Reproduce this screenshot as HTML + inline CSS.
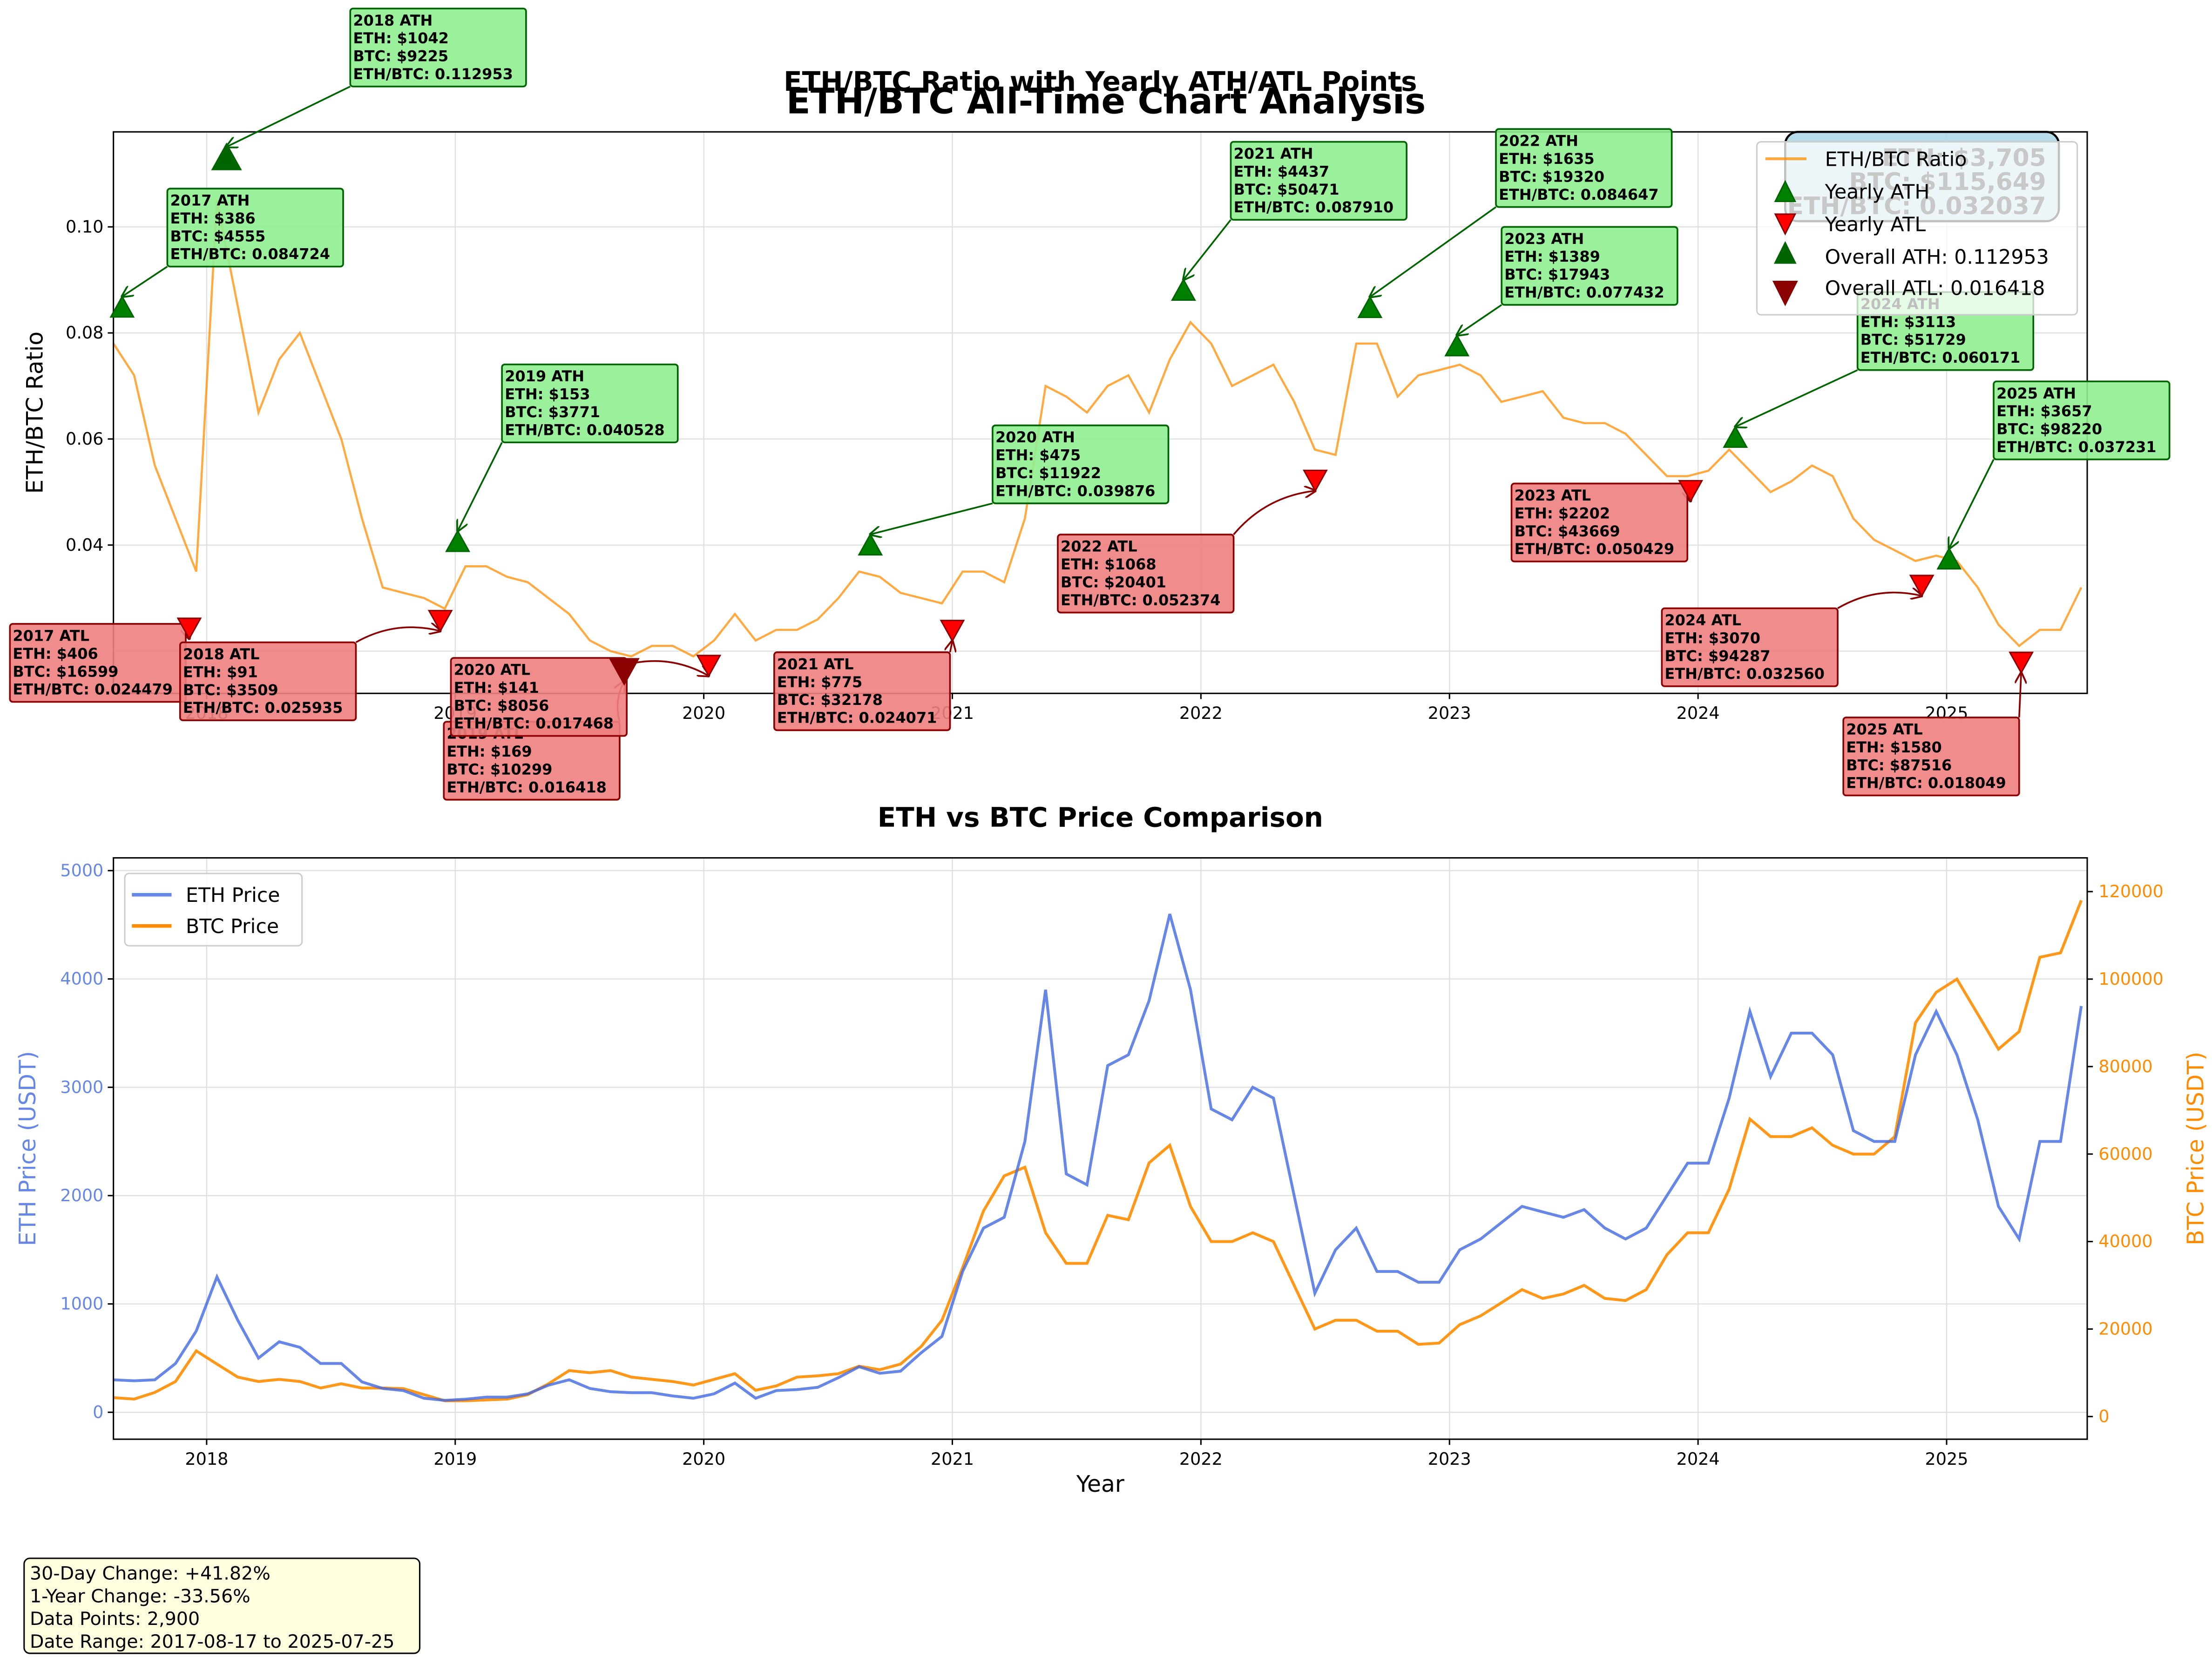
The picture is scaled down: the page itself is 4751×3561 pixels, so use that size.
<!DOCTYPE html>
<html><head><meta charset="utf-8">
<style>
html,body{margin:0;padding:0;background:#fff;}
svg{display:block;font-family:"DejaVu Sans","Liberation Sans",sans-serif;}
</style></head>
<body>
<svg id="c" width="4751" height="3561" viewBox="0 0 1560 1169.3" preserveAspectRatio="none" xmlns="http://www.w3.org/2000/svg"></svg>
<script>
// ---- data (monthly from 2017-08) ----
const startYear = 2017.625;
const ethPrice = [300,290,300,450,750,
 1250,850,500,650,600,450,450,280,220,200,130,110,
 120,140,140,170,250,300,220,190,180,180,150,130,
 170,270,130,200,210,230,320,420,360,380,550,700,
 1300,1700,1800,2500,3900,2200,2100,3200,3300,3800,4600,3900,
 2800,2700,3000,2900,2000,1100,1500,1700,1300,1300,1200,1200,
 1500,1600,1750,1900,1850,1800,1870,1700,1600,1700,2000,2300,
 2300,2900,3700,3100,3500,3500,3300,2600,2500,2500,3300,3700,
 3300,2700,1900,1600,2500,2500,3750];
const btcPrice = [4300,4000,5500,8000,15000,
 12000,9000,8000,8500,8000,6500,7500,6500,6500,6400,5000,3600,
 3600,3800,4000,5000,7500,10500,10000,10500,9000,8500,8000,7200,
 8500,9800,6000,7000,9000,9300,9800,11500,10700,12000,16000,22000,
 34000,47000,55000,57000,42000,35000,35000,46000,45000,58000,62000,48000,
 40000,40000,42000,40000,30000,20000,22000,22000,19500,19500,16500,16800,
 21000,23000,26000,29000,27000,28000,30000,27000,26500,29000,37000,42000,
 42000,52000,68000,64000,64000,66000,62000,60000,60000,64000,90000,97000,
 100000,92000,84000,88000,105000,106000,118000];
const ratio = [0.078,0.072,0.055,0.045,0.035,
 0.105,0.085,0.065,0.075,0.08,0.07,0.06,0.045,0.032,0.031,0.030,0.028,
 0.036,0.036,0.034,0.033,0.030,0.027,0.022,0.020,0.019,0.021,0.021,0.019,
 0.022,0.027,0.022,0.024,0.024,0.026,0.030,0.035,0.034,0.031,0.030,0.029,
 0.035,0.035,0.033,0.045,0.070,0.068,0.065,0.070,0.072,0.065,0.075,0.082,
 0.078,0.070,0.072,0.074,0.067,0.058,0.057,0.078,0.078,0.068,0.072,0.073,
 0.074,0.072,0.067,0.068,0.069,0.064,0.063,0.063,0.061,0.057,0.053,0.053,
 0.054,0.058,0.054,0.050,0.052,0.055,0.053,0.045,0.041,0.039,0.037,0.038,
 0.037,0.032,0.025,0.021,0.024,0.024,0.032];
const athYears = ["2017","2018","2019","2020","2021","2022","2023","2024","2025"];
const athDates = [2017.66,2018.08,2019.01,2020.67,2021.93,2022.68,2023.03,2024.15,2025.01];
const athRatio = [0.084724,0.112953,0.040528,0.039876,0.087910,0.084647,0.077432,0.060171,0.037231];
const athEth = [386,1042,153,475,4437,1635,1389,3113,3657];
const athBtc = [4555,9225,3771,11922,50471,19320,17943,51729,98220];
const atlYears = ["2017","2018","2019","2020","2021","2022","2023","2024","2025"];
const atlDates = [2017.93,2018.94,2019.68,2020.02,2021.0,2022.46,2023.97,2024.9,2025.30];
const atlRatio = [0.024479,0.025935,0.016418,0.017468,0.024071,0.052374,0.050429,0.032560,0.018049];
const atlEth = [406,91,169,141,775,1068,2202,3070,1580];
const atlBtc = [16599,3509,10299,8056,32178,20401,43669,94287,87516];
const yearTicks = [2018,2019,2020,2021,2022,2023,2024,2025];
const ratioTicks = [0.04,0.06,0.08,0.10];
const ethTicks = [0,1000,2000,3000,4000,5000];
const btcTicks = [0,20000,40000,60000,80000,100000,120000];

// ---- layout ----
const L=80,R=1472, T1=93,B1=489, T2=605,B2=1015;
const NS="http://www.w3.org/2000/svg";
const svg=document.getElementById('c');
function el(tag,attrs,parent){const e=document.createElementNS(NS,tag);for(const k in attrs)e.setAttribute(k,attrs[k]);(parent||svg).appendChild(e);return e;}
function tx(x,y,s,attrs,parent){const e=el('text',Object.assign({x:x,y:y},attrs),parent);e.textContent=s;return e;}
const xS=t=>L+(t-startYear)*175.3;
const yR=v=>160-(v-0.10)*3740;
const yE=v=>996-v*0.0764;
const yB=v=>999-v*0.003085;
const tOf=i=>startYear+i/12;

el('defs',{}).innerHTML='<clipPath id="cp1"><rect x="80" y="93" width="1392" height="396"/></clipPath><clipPath id="cp2"><rect x="80" y="605" width="1392" height="410"/></clipPath>'+
'<marker id="ag" viewBox="0 0 10 10" refX="9" refY="5" markerWidth="7" markerHeight="7" orient="auto"><path d="M0,0L10,5L0,10" fill="none" stroke="darkgreen" stroke-width="1.5"/></marker>'+
'<marker id="ar" viewBox="0 0 10 10" refX="9" refY="5" markerWidth="7" markerHeight="7" orient="auto"><path d="M0,0L10,5L0,10" fill="none" stroke="darkred" stroke-width="1.5"/></marker>';

// ===== TOP CHART =====
const g1=el('g',{});


yearTicks.forEach(y=>{const l=el('line',{x1:xS(y),x2:xS(y),y1:T1,y2:B1,stroke:'#e0e0e0','stroke-width':0.8},g1);
 });
ratioTicks.concat([0.02]).forEach(v=>{const l=el('line',{x1:L,x2:R,y1:yR(v),y2:yR(v),stroke:'#e0e0e0','stroke-width':0.8},g1);
 });
let d='';ratio.forEach((v,i)=>{d+=(i?'L':'M')+xS(tOf(i)).toFixed(1)+','+yR(v).toFixed(1);});
const rl=el('path',{d:d,fill:'none',stroke:'#ff8c00','stroke-opacity':0.75,'stroke-width':1.5,'clip-path':'url(#cp1)'},g1);

el('rect',{x:L,y:T1,width:R-L,height:B1-T1,fill:'none',stroke:'#000','stroke-width':1},g1);
ratioTicks.forEach(v=>{el('line',{x1:L-4,x2:L,y1:yR(v),y2:yR(v),stroke:'#000'},g1);
 const t=tx(L-7,yR(v)+4,v.toFixed(2),{'font-size':12,'text-anchor':'end'},g1);});
yearTicks.forEach(y=>{el('line',{x1:xS(y),x2:xS(y),y1:B1,y2:B1+4,stroke:'#000'},g1);
 const t=tx(xS(y),B1+18,String(y),{'font-size':12,'text-anchor':'middle'},g1);});
const yl=tx(0,0,'ETH/BTC Ratio',{'font-size':16,'text-anchor':'middle',transform:'translate(30,291) rotate(-90)'},g1);

const t1=tx(776,64,'ETH/BTC Ratio with Yearly ATH/ATL Points',{'font-size':19,'font-weight':'bold','text-anchor':'middle'});

const t0=tx(780,80,'ETH/BTC All-Time Chart Analysis',{'font-size':25,'font-weight':'bold','text-anchor':'middle'});


// current value box
const cb=el('g',{});

el('rect',{x:1259,y:93,width:193,height:63,rx:9,fill:'#add8e6','fill-opacity':0.9,stroke:'#000','stroke-width':1.5},cb);

// annotations
const athBox=[[118,133],[247,6],[354,257],[700,300],[868,100],[1055,91],[1059,160],[1310,206],[1406,269]];
const atlBox=[[7,440],[127,453],[313,509],[318,464],[546,460],[746,377],[1066,341],[1172,429],[1300,506]];
const atlCurve=[0,1,1,1,0,1,0,1,0];
function annot(year,label,eth,btc,r,box,green,mx,my,curve){
 const g=el('g',{});
 
 
 const w=124,h=55;
 const bx=box[0],by=box[1];
 const cx=Math.max(bx,Math.min(bx+w,mx)), cy=Math.max(by,Math.min(by+h,my));
 const sx=(mx<bx)?bx:(mx>bx+w?bx+w:cx), sy=(my<by)?by:(my>by+h?by+h:cy);
 const ex=mx, ey=green?my-8:my+8;
 let pd;
 if(curve){const qx=(sx+ex)/2+(ey-sy)*0.2, qy=(sy+ey)/2-(ex-sx)*0.2;pd=`M${sx},${sy}Q${qx},${qy} ${ex},${ey}`;}
 else pd=`M${sx},${sy}L${ex},${ey}`;
 el('path',{d:pd,fill:'none',stroke:green?'darkgreen':'darkred','stroke-width':1.2,'marker-end':green?'url(#ag)':'url(#ar)'},g);
 el('rect',{x:bx,y:by,width:w,height:h,rx:2,fill:green?'#90ee90':'#f08080','fill-opacity':0.9,stroke:green?'darkgreen':'darkred','stroke-width':1.2},g);
 const lines=[year+' '+label,'ETH: $'+eth,'BTC: $'+btc,'ETH/BTC: '+r.toFixed(6)];
 lines.forEach((s,i)=>tx(bx+2,by+12+i*12.6,s,{'font-size':10.5,'font-weight':'bold'},g));
 return g;
}
const markG=el('g',{});

athDates.forEach((t,i)=>{
 const mx=xS(t),my=yR(athRatio[i]);
 annot(athYears[i],'ATH',athEth[i],athBtc[i],athRatio[i],athBox[i],true,mx,my,false);
});
atlDates.forEach((t,i)=>{
 const mx=xS(t),my=yR(atlRatio[i]);
 annot(atlYears[i],'ATL',atlEth[i],atlBtc[i],atlRatio[i],atlBox[i],false,mx,my,atlCurve[i]);
});
svg.appendChild(markG);
athDates.forEach((t,i)=>{
 const mx=xS(t),my=yR(athRatio[i]);const s=i==1?10:8;
 const p=el('path',{d:`M${mx},${my-s}L${mx+s},${my+s*0.8}L${mx-s},${my+s*0.8}Z`,fill:i==1?'darkgreen':'green',stroke:'darkgreen','stroke-width':1},markG);
 
});
atlDates.forEach((t,i)=>{
 const mx=xS(t),my=yR(atlRatio[i]);const s=i==2?10:8;
 const p=el('path',{d:`M${mx},${my+s}L${mx+s},${my-s*0.8}L${mx-s},${my-s*0.8}Z`,fill:i==2?'darkred':'red',stroke:'darkred','stroke-width':1},markG);
 
});

// legend top
const lg=el('g',{});

el('rect',{x:1239,y:100,width:226,height:122,rx:3,fill:'#fff','fill-opacity':0.75,stroke:'#ccc','stroke-width':1},lg);
const cvt=el('g',{},lg);

['ETH: $3,705','BTC: $115,649','ETH/BTC: 0.032037'].forEach((s,i)=>{tx(1443,[117,134,151][i],s,{'font-size':17,'font-weight':'bold','fill':'#c8c8c8','text-anchor':'end'},cvt);});
const lx=1259;
el('line',{x1:1245,x2:1274,y1:112,y2:112,stroke:'#ff8c00','stroke-opacity':0.75,'stroke-width':2},lg);
el('path',{d:`M${lx},128L${lx+7},142L${lx-7},142Z`,fill:'green',stroke:'darkgreen'},lg);
el('path',{d:`M${lx},165L${lx+7},151L${lx-7},151Z`,fill:'red',stroke:'darkred'},lg);
el('path',{d:`M${lx},170L${lx+8},186L${lx-8},186Z`,fill:'darkgreen'},lg);
el('path',{d:`M${lx},216L${lx+9},198L${lx-9},198Z`,fill:'darkred'},lg);
[['ETH/BTC Ratio',117],['Yearly ATH',140],['Yearly ATL',163],['Overall ATH: 0.112953',186],['Overall ATL: 0.016418',208]].forEach(a=>tx(1287,a[1],a[0],{'font-size':14},lg));

// ===== BOTTOM CHART =====
const g2=el('g',{});

yearTicks.forEach(y=>{el('line',{x1:xS(y),x2:xS(y),y1:T2,y2:B2,stroke:'#e0e0e0','stroke-width':0.8},g2);});
ethTicks.forEach(v=>{el('line',{x1:L,x2:R,y1:yE(v),y2:yE(v),stroke:'#e0e0e0','stroke-width':0.8},g2);});
let dB='';btcPrice.forEach((v,i)=>{dB+=(i?'L':'M')+xS(tOf(i)).toFixed(1)+','+yB(v).toFixed(1);});
const bl=el('path',{d:dB,fill:'none',stroke:'#ff8c00','stroke-opacity':0.9,'stroke-width':2,'clip-path':'url(#cp2)'},g2);

let dE='';ethPrice.forEach((v,i)=>{dE+=(i?'L':'M')+xS(tOf(i)).toFixed(1)+','+yE(v).toFixed(1);});
const elE=el('path',{d:dE,fill:'none',stroke:'#4169e1','stroke-opacity':0.8,'stroke-width':2,'clip-path':'url(#cp2)'},g2);

el('rect',{x:L,y:T2,width:R-L,height:B2-T2,fill:'none',stroke:'#000','stroke-width':1},g2);
ethTicks.forEach(v=>{el('line',{x1:L-4,x2:L,y1:yE(v),y2:yE(v),stroke:'#000'},g2);
 const t=tx(L-7,yE(v)+4,String(v),{'font-size':12,'text-anchor':'end',fill:'#4169e1','fill-opacity':0.8},g2);});
btcTicks.forEach(v=>{el('line',{x1:R,x2:R+4,y1:yB(v),y2:yB(v),stroke:'#000'},g2);
 const t=tx(R+8,yB(v)+4,String(v),{'font-size':12,fill:'#ff8c00'},g2);});
yearTicks.forEach(y=>{el('line',{x1:xS(y),x2:xS(y),y1:B2,y2:B2+4,stroke:'#000'},g2);
 const t=tx(xS(y),B2+18,String(y),{'font-size':12,'text-anchor':'middle'},g2);});
const t2=tx(776,583,'ETH vs BTC Price Comparison',{'font-size':19,'font-weight':'bold','text-anchor':'middle'});

const xl=tx(776,1052,'Year',{'font-size':16,'text-anchor':'middle'});

const ye=tx(0,0,'ETH Price (USDT)',{'font-size':16,'text-anchor':'middle',fill:'#4169e1','fill-opacity':0.8,transform:'translate(25,810) rotate(-90)'});

const yb=tx(0,0,'BTC Price (USDT)',{'font-size':16,'text-anchor':'middle',fill:'#ff8c00',transform:'translate(1554,810) rotate(-90)'});

const lg2=el('g',{});

el('rect',{x:88,y:616,width:125,height:51,rx:3,fill:'#fff','fill-opacity':0.8,stroke:'#ccc'},lg2);
el('line',{x1:93,x2:121,y1:631,y2:631,stroke:'#4169e1','stroke-opacity':0.8,'stroke-width':2.5},lg2);
el('line',{x1:93,x2:121,y1:653,y2:653,stroke:'#ff8c00','stroke-width':2.5},lg2);
tx(131,636,'ETH Price',{'font-size':14},lg2);
tx(131,658,'BTC Price',{'font-size':14},lg2);

// stats box
const sb=el('g',{});

el('rect',{x:17,y:1099,width:279,height:67,rx:4,fill:'#ffffe0',stroke:'#000','stroke-width':1},sb);
['30-Day Change: +41.82%','1-Year Change: -33.56%','Data Points: 2,900','Date Range: 2017-08-17 to 2025-07-25'].forEach((s,i)=>tx(21,1114+i*16,s,{'font-size':13},sb));
</script>
</body></html>
